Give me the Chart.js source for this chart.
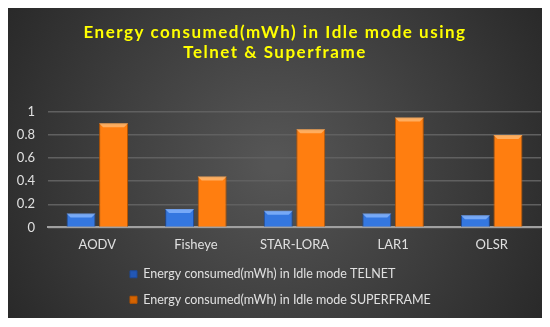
<!DOCTYPE html>
<html>
<head>
<meta charset="utf-8">
<script src="https://cdn.jsdelivr.net/npm/chart.js@4"></script>
<style>
  body { margin: 0; background: #fff; }
  #wrap { position: absolute; left: 8px; top: 8px; width: 534px; height: 310px; }
</style>
</head>
<body>
<div id="wrap"><canvas id="energyChart"></canvas></div>
<script>
// chart data
const protocols = ["AODV", "Fisheye", "STAR-LORA", "LAR1", "OLSR"];
const telnetValues = [0.12, 0.16, 0.145, 0.12, 0.105];
const superframeValues = [0.9, 0.44, 0.85, 0.95, 0.8];
const yTicks = [0, 0.2, 0.4, 0.6, 0.8, 1];

// dark radial background like the Excel style
const panelBg = {
  id: "panelBg",
  beforeDraw(chart) {
    const ctx = chart.ctx;
    const w = chart.width, h = chart.height;
    const g = ctx.createRadialGradient(w / 2, h / 2, 10, w / 2, h / 2, w * 0.62);
    g.addColorStop(0, "#555555");
    g.addColorStop(1, "#262626");
    ctx.save();
    ctx.fillStyle = g;
    ctx.fillRect(0, 0, w, h);
    ctx.restore();

    // spaced-out title letters
    const tb = chart.titleBlock;
    if (tb && !tb._spaced) {
      const orig = tb.draw;
      tb.draw = function () {
        ctx.save();
        ctx.letterSpacing = "1.5px";
        orig.apply(this, arguments);
        ctx.restore();
      };
      tb._spaced = true;
    }
  },
  afterLayout(chart) {
    // legend sits under the middle-left of the plot
    const lg = chart.legend;
    if (lg) {
      lg.left += 108;
      lg.right += 108;
    }
  },
  afterDatasetsDraw(chart) {
    // light bevel along the top of every bar
    const ctx = chart.ctx;
    const tops = ["rgba(140,185,255,0.75)", "rgba(255,190,120,0.75)"];
    chart.data.datasets.forEach((ds, i) => {
      chart.getDatasetMeta(i).data.forEach(bar => {
        const half = bar.width / 2;
        ctx.save();
        ctx.fillStyle = tops[i];
        ctx.beginPath();
        ctx.moveTo(bar.x - half, bar.y);
        ctx.lineTo(bar.x + half, bar.y);
        ctx.lineTo(bar.x + half - 4, bar.y + 4);
        ctx.lineTo(bar.x - half + 4, bar.y + 4);
        ctx.closePath();
        ctx.fill();
        ctx.restore();
      });
    });
  }
};

function barFill(light, dark) {
  return function (c) {
    const el = c.element;
    if (!c.chart.chartArea || !el || el.width == null) return light;
    const x0 = el.x - el.width / 2, x1 = el.x + el.width / 2;
    const g = c.chart.ctx.createLinearGradient(x0, 0, x1, 0);
    g.addColorStop(0, dark);
    g.addColorStop(0.14, light);
    g.addColorStop(0.86, light);
    g.addColorStop(1, dark);
    return g;
  };
}

const ctx = document.getElementById("energyChart").getContext("2d");
new Chart(ctx, {
  type: "bar",
  data: {
    labels: protocols,
    datasets: [
      {
        label: "Energy consumed(mWh) in Idle mode TELNET",
        data: telnetValues,
        backgroundColor: barFill("#3477e0", "#2257b5"),
        borderColor: "#1d4a9a",
        borderWidth: 1
      },
      {
        label: "Energy consumed(mWh) in Idle mode SUPERFRAME",
        data: superframeValues,
        backgroundColor: barFill("#ff7e10", "#d56300"),
        borderColor: "#b85500",
        borderWidth: 1
      }
    ]
  },
  options: {
    responsive: true,
    maintainAspectRatio: false,
    animation: false,
    layout: { padding: { left: 1, right: 1, top: 14, bottom: 2 } },
    datasets: {
      bar: { categoryPercentage: 0.66, barPercentage: 0.89 }
    },
    plugins: {
      title: {
        display: true,
        text: ["Energy consumed(mWh) in Idle mode using", "Telnet & Superframe"],
        color: "#ffff00",
        font: { family: "Lato", size: 17, weight: "bold" },
        lineHeight: 1.55,
        padding: { top: 0, bottom: 49 }
      },
      legend: {
        position: "bottom",
        align: "start",
        maxWidth: 300,
        labels: {
          color: "#e0e0e0",
          font: { family: "Lato", size: 12.5 },
          boxWidth: 7,
          boxHeight: 7,
          padding: 13
        }
      },
      tooltip: { enabled: false }
    },
    scales: {
      x: {
        grid: { display: false },
        border: { color: "#a0a0a0", width: 2 },
        ticks: { color: "#e0e0e0", font: { family: "Lato", size: 13 }, padding: 2 }
      },
      y: {
        min: 0,
        max: 1,
        afterBuildTicks(axis) { axis.ticks = yTicks.map(v => ({ value: v })); },
        afterFit(axis) { axis.width = 39; },
        grid: { color: "#606060", lineWidth: 1.5, drawTicks: false },
        border: { display: false },
        ticks: {
          color: "#e0e0e0",
          font: { family: "Lato", size: 13 },
          padding: 13,
          callback: v => String(v)
        }
      }
    }
  },
  plugins: [panelBg]
});
</script>
</body>
</html>
